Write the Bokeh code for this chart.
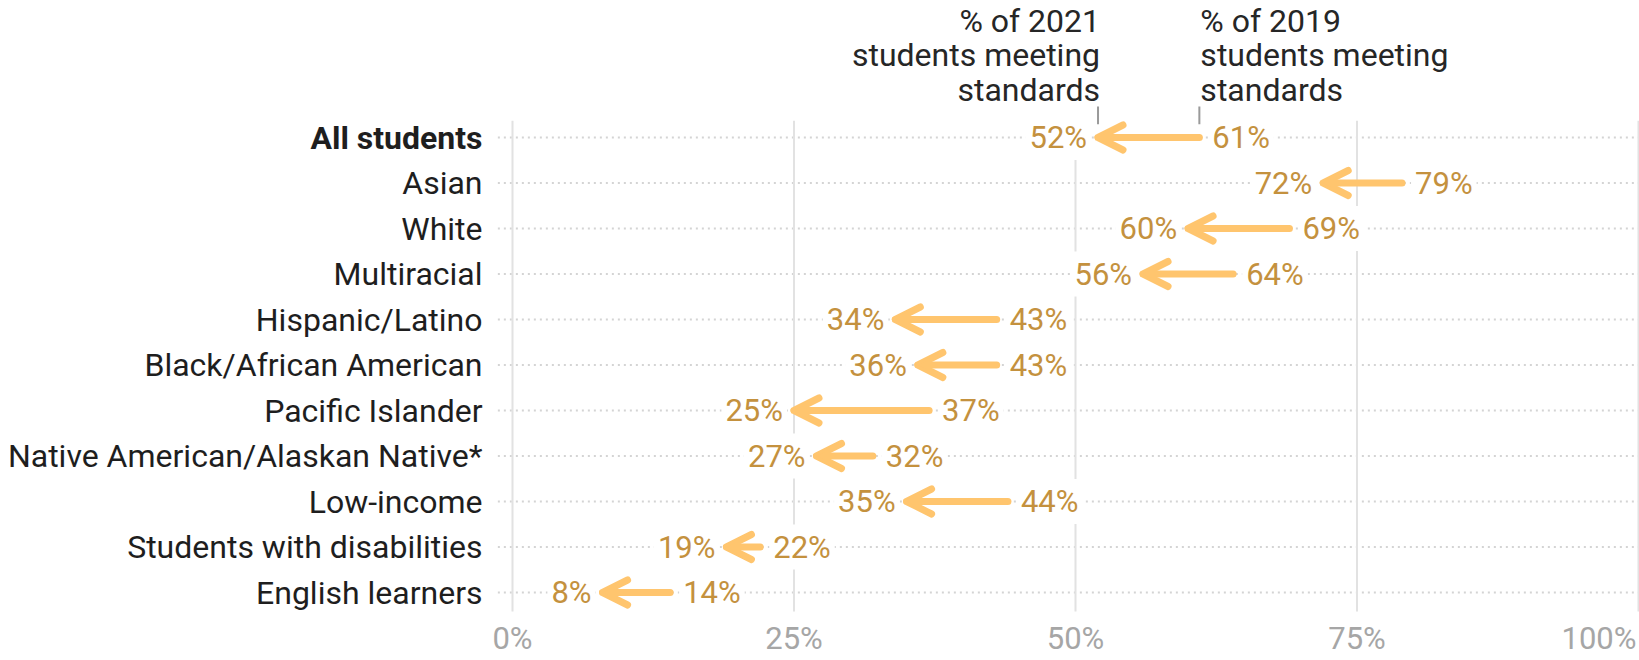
from bokeh.plotting import figure
from bokeh.models import ColumnDataSource, Range1d, Arrow, OpenHead
from bokeh.core.properties import value
from bokeh.embed import file_html
from bokeh.resources import INLINE

# ---- data ----
categories = ["All students", "Asian", "White", "Multiracial", "Hispanic/Latino",
              "Black/African American", "Pacific Islander",
              "Native American/Alaskan Native*", "Low-income",
              "Students with disabilities", "English learners"]
pct_2019 = [61, 79, 69, 64, 43, 43, 37, 32, 44, 22, 14]
pct_2021 = [52, 72, 60, 56, 34, 36, 25, 27, 35, 19, 8]
x_ticks = [0, 25, 50, 75, 100]
x_tick_labels = ["0%", "25%", "50%", "75%", "100%"]
label_2021 = ["% of 2021", "students meeting", "standards"]
label_2019 = ["% of 2019", "students meeting", "standards"]

# ---- layout / style ----
W, H = 1639, 660
X0_PX, PX_PER = 512, 11.26
ROW0_PX, ROW_PX = 137, 45.5
x_lo = -X0_PX / PX_PER
x_hi = x_lo + W / PX_PER
y_top = -ROW0_PX / ROW_PX
y_bot = (H - ROW0_PX) / ROW_PX

FONT = value("Roboto")
FS_CAT = "32px"
FS_VAL = "31px"
ARROW_C = "#ffc56e"
VAL_C = "#c4913e"
CAT_C = "#1e1e1e"
TICK_C = "#a6a6a6"

rows = list(range(len(categories)))
n = len(categories)

src = ColumnDataSource(dict(
    row=rows, cat=categories, v2019=pct_2019, v2021=pct_2021,
    l2019=[f"{v}%" for v in pct_2019], l2021=[f"{v}%" for v in pct_2021],
    style=["bold" if i == 0 else "normal" for i in rows],
))

p = figure(width=W, height=H, x_range=Range1d(x_lo, x_hi), y_range=Range1d(y_bot, y_top),
           output_backend="svg", toolbar_location=None, min_border=0,
           x_axis_location=None, y_axis_location=None, outline_line_color=None,
           background_fill_color="white", border_fill_color="white")
p.grid.visible = False

# dotted row lines
p.segment(x0=-1.3, y0="row", x1=x_hi, y1="row", source=src,
          line_color="#d4d4d4", line_width=2, line_dash="2 4")

# vertical gridlines
p.segment(x0=x_ticks, y0=[-0.37] * len(x_ticks), x1=x_ticks, y1=[n - 1 + 0.42] * len(x_ticks),
          line_color="#e2e2e2", line_width=2)

# arrows 2019 -> 2021
p.add_layout(Arrow(
    end=OpenHead(size=25, line_color=ARROW_C, line_width=7, line_cap="round", line_join="round"),
    x_start="v2019", y_start="row", x_end="v2021", y_end="row", source=src,
    line_color=ARROW_C, line_width=7, line_cap="round"))

# value labels
p.text(x="v2021", y="row", text="l2021", source=src, x_offset=-7, y_offset=0,
       text_align="right", text_baseline="middle", text_font=FONT, text_font_size=FS_VAL,
       text_color=VAL_C, background_fill_color="white", padding=4)
p.text(x="v2019", y="row", text="l2019", source=src, x_offset=9, y_offset=0,
       text_align="left", text_baseline="middle", text_font=FONT, text_font_size=FS_VAL,
       text_color=VAL_C, background_fill_color="white", padding=4)

# category labels
p.text(x=0, y="row", text="cat", source=src, x_offset=-30, y_offset=0,
       text_align="right", text_baseline="middle", text_font=FONT, text_font_size=FS_CAT,
       text_font_style="style", text_color=CAT_C)

# x tick labels
tick_src = ColumnDataSource(dict(
    x=x_ticks, t=x_tick_labels,
    align=["center"] * (len(x_ticks) - 1) + ["right"],
    dx=[0] * (len(x_ticks) - 1) + [-2],
))
p.text(x="x", y=n - 1, text="t", source=tick_src, x_offset="dx", y_offset=46,
       text_align="align", text_baseline="middle", text_font=FONT, text_font_size=FS_VAL,
       text_color=TICK_C)

# top annotations
offs = [-117, -82.5, -48]
anno_src = ColumnDataSource(dict(
    x=[pct_2021[0]] * 3 + [pct_2019[0]] * 3,
    y=[0] * 6,
    t=label_2021 + label_2019,
    align=["right"] * 3 + ["left"] * 3,
    dx=[2] * 3 + [1] * 3,
    dy=offs + offs,
))
p.text(x="x", y="y", text="t", source=anno_src, x_offset="dx", y_offset="dy",
       text_align="align", text_baseline="middle", text_font=FONT, text_font_size=FS_CAT,
       text_color="#262626")
p.segment(x0=[pct_2021[0], pct_2019[0]], y0=[-0.68, -0.68],
          x1=[pct_2021[0], pct_2019[0]], y1=[-0.29, -0.29],
          line_color="#9a9a9a", line_width=2)

open("out.html", "w").write(file_html(p, INLINE))
